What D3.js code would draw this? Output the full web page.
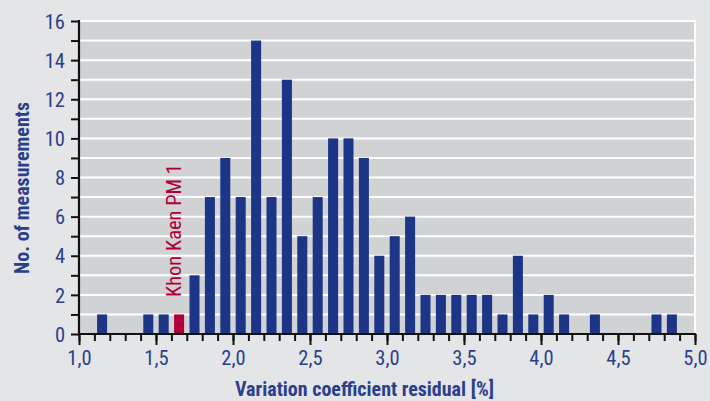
<!DOCTYPE html>
<html>
<head>
<meta charset="utf-8">
<script src="https://cdn.jsdelivr.net/npm/d3@7/dist/d3.min.js"></script>
<style>
html,body{margin:0;padding:0;background:#e4e5e7;}
svg{display:block;}
text{font-family:"Liberation Sans Narrow","Arial Narrow","Roboto Condensed","Liberation Sans",sans-serif;}
</style>
</head>
<body>
<svg id="chart" width="710" height="401"></svg>
<script>
// Bin centers (variation coefficient residual, %)
const binCenters = [1.15,1.25,1.35,1.45,1.55,1.65,1.75,1.85,1.95,2.05,2.15,2.25,2.35,2.45,2.55,2.65,2.75,2.85,2.95,3.05,3.15,3.25,3.35,3.45,3.55,3.65,3.75,3.85,3.95,4.05,4.15,4.25,4.35,4.45,4.55,4.65,4.75,4.85];
// Number of measurements per bin
const counts = [1,0,0,1,1,1,3,7,9,7,15,7,13,5,7,10,10,9,4,5,6,2,2,2,2,2,1,4,1,2,1,0,1,0,0,0,1,1];
// Highlighted bin
const highlightBin = 1.65;
const highlightLabel = "Khon Kaen PM 1";
const xTickLabels = ["1,0","1,5","2,0","2,5","3,0","3,5","4,0","4,5","5,0"];
const xTickValues = [1.0,1.5,2.0,2.5,3.0,3.5,4.0,4.5,5.0];
const yTickValues = [0,2,4,6,8,10,12,14,16];
const xTitle = "Variation coefficient residual [%]";
const yTitle = "No. of measurements";

const svg = d3.select("#chart");
const L = 79, R = 695, T = 21, B = 334;
const x = d3.scaleLinear().domain([1,5]).range([L,R]);
const y = d3.scaleLinear().domain([0,16]).range([B,T]);
const blue = "#1c3586", textBlue = "#2b3f8e", red = "#b0003a";

// plot background
svg.append("rect").attr("x",L).attr("y",y(16)-1).attr("width",R-L+1).attr("height",B-y(16)+1)
  .attr("fill","#fbfbfb");
svg.append("rect").attr("x",L).attr("y",y(16)+1).attr("width",R-L-1).attr("height",B-y(16)-1)
  .attr("fill","#d1d2d4");
// gridlines
svg.append("g").selectAll("line").data(d3.range(1,17)).join("line")
  .attr("x1",L).attr("x2",R).attr("y1",d=>y(d)).attr("y2",d=>y(d))
  .attr("stroke","#ffffff").attr("stroke-width",2);

// bars
const bw = x(1.065)-x(1);
svg.append("g").selectAll("rect").data(binCenters.map((c,i)=>({c,v:counts[i]})).filter(d=>d.v>0))
  .join("rect")
  .attr("x",d=>x(d.c)-bw/2).attr("width",bw)
  .attr("y",d=>y(d.v)).attr("height",d=>B-y(d.v))
  .attr("fill",d=>Math.abs(d.c-highlightBin)<1e-9?red:blue);

// y axis
const yAxis = d3.axisLeft(y).tickValues(d3.range(0,17)).tickSize(8).tickPadding(6)
  .tickFormat(d=>yTickValues.includes(d)?d:"");
const gy = svg.append("g").attr("transform",`translate(${L},0)`).call(yAxis);
gy.select(".domain").attr("stroke","#111").attr("stroke-width",2.2).attr("d",`M0,${B}V${T-1}`);
gy.selectAll(".tick line").attr("stroke","#111").attr("stroke-width",2);
gy.selectAll(".tick text").attr("fill",textBlue).style("font-size","20.5px").attr("dy","0.35em");

// x axis minor + major
const gxm = svg.append("g").attr("transform",`translate(0,${B})`)
  .call(d3.axisBottom(x).tickValues(d3.range(10,51).map(d=>d/10)).tickSize(7).tickFormat(""));
gxm.select(".domain").remove();
gxm.selectAll(".tick line").attr("stroke","#111").attr("stroke-width",2);
const gx = svg.append("g").attr("transform",`translate(0,${B})`)
  .call(d3.axisBottom(x).tickValues(xTickValues).tickSize(11).tickPadding(5)
    .tickFormat((d,i)=>xTickLabels[i]));
gx.select(".domain").attr("stroke","#111").attr("stroke-width",2.2).attr("d",`M${L-1},0H${R+1}`);
gx.selectAll(".tick line").attr("stroke","#111").attr("stroke-width",2);
gx.selectAll(".tick text").attr("fill",textBlue).style("font-size","20.5px");

// titles
svg.append("text").attr("x",(237+492)/2).attr("y",396).attr("text-anchor","middle")
  .attr("fill",textBlue).style("font-size","20px").style("font-weight","bold").text(xTitle);
svg.append("text").attr("transform","translate(29,188) rotate(-90)").attr("text-anchor","middle")
  .attr("fill",textBlue).style("font-size","20px").style("font-weight","bold").text(yTitle);

// highlight label
svg.append("text").attr("transform",`translate(${x(highlightBin)+2},297) rotate(-90)`)
  .attr("text-anchor","start").attr("fill",red).style("font-size","20.5px").text(highlightLabel);
</script>
</body>
</html>
